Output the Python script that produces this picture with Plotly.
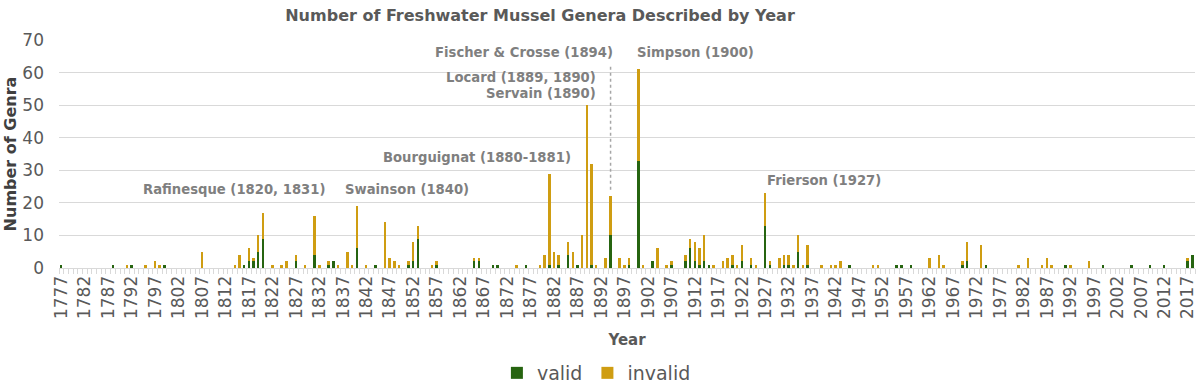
import plotly.graph_objects as go

# Years with at least one genus described (all other years are zero)
years = [1777, 1788, 1791, 1792, 1795, 1797, 1798, 1799, 1807, 1814, 1815, 1816, 1817, 1818, 1819, 1820,
         1822, 1824, 1825, 1827, 1829, 1831, 1832, 1834, 1835, 1836, 1838, 1839, 1840, 1842, 1844, 1846,
         1847, 1848, 1849, 1851, 1852, 1853, 1856, 1857, 1865, 1866, 1869, 1870, 1874, 1876, 1879, 1880,
         1881, 1882, 1883, 1885, 1886, 1887, 1888, 1889, 1890, 1891, 1893, 1894, 1896, 1897, 1898, 1900,
         1901, 1903, 1904, 1906, 1907, 1910, 1911, 1912, 1913, 1914, 1915, 1916, 1918, 1919, 1920, 1921,
         1922, 1924, 1925, 1927, 1928, 1930, 1931, 1932, 1933, 1934, 1935, 1936, 1939, 1941, 1942, 1943,
         1945, 1950, 1951, 1955, 1956, 1958, 1962, 1964, 1965, 1969, 1970, 1973, 1974, 1981, 1983, 1986,
         1987, 1988, 1991, 1992, 1996, 1999, 2005, 2009, 2012, 2017, 2018]
valid = [1, 1, 0, 1, 0, 0, 0, 1, 0, 0, 0, 1, 2, 2, 5, 9,
         0, 0, 0, 2, 0, 4, 0, 1, 2, 0, 0, 0, 6, 0, 1, 0,
         0, 0, 0, 1, 2, 9, 0, 1, 2, 2, 1, 1, 0, 1, 0, 0,
         1, 0, 1, 4, 0, 1, 0, 0, 1, 0, 0, 10, 0, 0, 1, 33,
         0, 2, 0, 0, 1, 2, 6, 2, 1, 2, 1, 0, 0, 0, 1, 0,
         2, 1, 0, 13, 1, 0, 1, 1, 0, 5, 0, 1, 0, 0, 0, 0,
         1, 0, 0, 1, 1, 1, 0, 0, 0, 1, 2, 0, 1, 0, 0, 0,
         0, 0, 1, 0, 0, 1, 1, 1, 1, 2, 4]
invalid = [0, 0, 1, 0, 1, 2, 1, 0, 5, 1, 4, 0, 4, 1, 5, 8,
           1, 1, 2, 2, 1, 12, 1, 1, 0, 1, 5, 1, 13, 1, 0, 14,
           3, 2, 1, 1, 6, 4, 1, 1, 1, 1, 0, 0, 1, 0, 1, 4,
           28, 5, 3, 4, 5, 0, 10, 50, 31, 1, 3, 12, 3, 1, 2, 28,
           1, 0, 6, 1, 1, 2, 3, 6, 5, 8, 0, 1, 2, 3, 3, 1,
           5, 2, 1, 10, 1, 3, 3, 3, 1, 5, 1, 6, 1, 1, 1, 2,
           0, 1, 1, 0, 0, 0, 3, 4, 1, 1, 6, 7, 0, 1, 3, 1,
           3, 1, 0, 1, 2, 0, 0, 0, 0, 1, 0]

first_year, last_year = 1777, 2018
tick_years = list(range(1777, 2018, 5))
tick_labels = [str(y) for y in tick_years]

# Annotation texts: (label, x-year, y-value, anchor)
labels = [
    ("Fischer & Crosse (1894)", 1894.9, 66.3, "right"),
    ("Simpson (1900)", 1899.1, 66.3, "left"),
    ("Locard (1889, 1890)", 1891.3, 58.6, "right"),
    ("Servain (1890)", 1891.3, 53.7, "right"),
    ("Bourguignat (1880-1881)", 1886.0, 33.9, "right"),
    ("Rafinesque (1820, 1831)", 1813.7, 24.0, "center"),
    ("Swainson (1840)", 1850.6, 24.0, "center"),
    ("Frierson (1927)", 1939.4, 26.8, "center"),
]

GREEN = "#266410"
GOLD = "#cf9d12"
FONT = "DejaVu Sans"

fig = go.Figure()
fig.add_trace(go.Bar(x=years, y=valid, name="valid", marker=dict(color=GREEN, line=dict(width=0))))
fig.add_trace(go.Bar(x=years, y=invalid, name="invalid", marker=dict(color=GOLD, line=dict(width=0))))

for text, xv, yv, anchor in labels:
    fig.add_annotation(x=xv, y=yv, xref="x", yref="y", text="<b>%s</b>" % text,
                       showarrow=False, xanchor=anchor, yanchor="middle",
                       font=dict(family=FONT, size=13.2, color="#7f7f7f"))

fig.add_shape(type="line", xref="x", yref="y", x0=1894, x1=1894, y0=24, y1=62.7,
              line=dict(color="#a6a6a6", width=1.5, dash="dot"))

fig.update_layout(
    width=1200, height=387,
    barmode="stack", bargap=0.58,
    plot_bgcolor="white", paper_bgcolor="white",
    margin=dict(l=59, r=3, t=40, b=119),
    font=dict(family=FONT, color="#595959"),
    title=dict(text="<b>Number of Freshwater Mussel Genera Described by Year</b>",
               x=0.45, xref="container", xanchor="center",
               y=1 - 15 / 387, yref="container", yanchor="middle",
               font=dict(family=FONT, size=16, color="#595959")),
    legend=dict(orientation="h", xref="container", x=0.497, xanchor="center",
                yref="container", y=1 - 373 / 387, yanchor="middle",
                font=dict(family=FONT, size=19, color="#595959"),
                itemwidth=30, traceorder="normal"),
    xaxis=dict(range=[first_year - 0.5, last_year + 0.5],
               tickmode="array", tickvals=tick_years, ticktext=tick_labels,
               tickangle=-90, ticks="", showgrid=False,
               tickfont=dict(family=FONT, size=17, color="#595959"),
               showline=True, linecolor="#d9d9d9", linewidth=1,
               minor=dict(tickmode="linear", tick0=first_year - 0.5, dtick=1,
                          ticks="outside", ticklen=5, tickcolor="#d9d9d9", showgrid=False),
               title=dict(text="<b>Year</b>", font=dict(family=FONT, size=15, color="#595959"), standoff=16),
               zeroline=False),
    yaxis=dict(range=[0, 70], dtick=10, showgrid=True, gridcolor="#d9d9d9", gridwidth=1,
               zeroline=False, ticks="", ticklabelstandoff=14,
               tickfont=dict(family=FONT, size=17, color="#595959"),
               title=dict(text="<b>Number of Genra</b>", font=dict(family=FONT, size=16, color="#404040"),
                          standoff=1)),
)

fig.write_html("out.html", config={"displayModeBar": False},
               post_script="document.body.style.margin='0';")
